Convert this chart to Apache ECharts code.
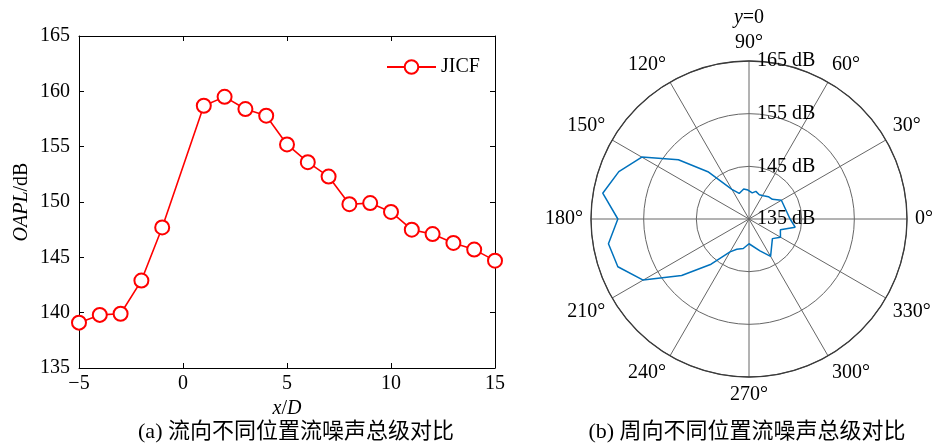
<!DOCTYPE html>
<html>
<head>
<meta charset="utf-8">
<script src="https://cdn.jsdelivr.net/npm/echarts@6/dist/echarts.min.js"></script>
<style>
html, body { margin: 0; padding: 0; background: #fff; }
#chart { width: 932px; height: 446px; }
</style>
</head>
<body>
<div id="chart"></div>
<script>
// Streamwise positions (x/D) and overall sound pressure level (dB)
const streamwisePositions = [-5, -4, -3, -2, -1, 1, 2, 3, 4, 5, 6, 7, 8, 9, 10, 11, 12, 13, 14, 15];
const streamwiseOAPL = [139.1, 139.8, 139.9, 142.9, 147.7, 158.7, 159.5, 158.4, 157.8, 155.2, 153.6, 152.3, 149.8, 149.9, 149.1, 147.5, 147.1, 146.3, 145.7, 144.7];

// Circumferential angles (deg) and OAPL (dB) in the y=0 plane
const circAngles = [0, 30, 40, 49, 58, 67, 76, 83, 92, 100, 111, 120, 131, 140, 150, 160, 170, 180, 190, 200, 210, 220, 230, 240, 248, 259, 270, 289, 300, 320, 330, 341, 350];
const circOAPL = [142.8, 142.1, 140.8, 140.6, 140.2, 140.0, 140.4, 140.0, 140.5, 140.8, 140.2, 141.5, 146.9, 152.5, 158.5, 161.3, 163.2, 159.9, 162.1, 161.5, 158.2, 151.7, 146.2, 142.2, 141.2, 140.7, 139.7, 141.4, 143.2, 140.8, 141.9, 141.3, 143.9];

// Axis tick settings
const xTickRange = { min: -5, max: 15, step: 5 };
const yTickRange = { min: 135, max: 165, step: 5 };
const radiusTickRange = { min: 135, max: 165, step: 10 };
const angleTickStep = 30;

const serif = "'Liberation Serif', 'Times New Roman', serif";
const captionFont = "'Liberation Serif', 'Noto Sans CJK SC', serif";

const lineData = streamwisePositions.map((x, i) => [x, streamwiseOAPL[i]]);
const polarData = circAngles.map((a, i) => [circOAPL[i], a]);
polarData.push([circOAPL[0], circAngles[0] + 360]);

const fmtMinus = v => (v < 0 ? '\u2212' + Math.abs(v) : String(v));

const cartAxisBase = {
  type: 'value',
  axisLine: { show: true, onZero: false, lineStyle: { color: '#000', width: 1 } },
  axisTick: { show: true, inside: true, length: 5, lineStyle: { color: '#000' } },
  splitLine: { show: false }
};

const chart = echarts.init(document.getElementById('chart'), null, { renderer: 'canvas' });

chart.setOption({
  backgroundColor: '#fff',
  animation: false,
  grid: { left: 79, right: 437, top: 36, bottom: 78, containLabel: false },
  legend: {
    data: ['JICF'],
    left: 381, top: 52,
    itemWidth: 49, itemHeight: 17, itemGap: 6,
    textStyle: { fontFamily: serif, fontSize: 20, color: '#000' }
  },
  xAxis: [
    Object.assign({}, cartAxisBase, {
      position: 'bottom',
      min: xTickRange.min, max: xTickRange.max, interval: xTickRange.step,
      axisLabel: { formatter: fmtMinus, fontFamily: serif, fontSize: 20, color: '#000', margin: 6 },
      name: '{i|x}/{i|D}', nameLocation: 'middle', nameGap: 28,
      nameTextStyle: { fontFamily: serif, fontSize: 20, color: '#000',
        rich: { i: { fontFamily: serif, fontSize: 20, fontStyle: 'italic', color: '#000' } } }
    }),
    Object.assign({}, cartAxisBase, {
      position: 'top',
      min: xTickRange.min, max: xTickRange.max, interval: xTickRange.step,
      axisLabel: { show: false }
    })
  ],
  yAxis: [
    Object.assign({}, cartAxisBase, {
      position: 'left',
      min: yTickRange.min, max: yTickRange.max, interval: yTickRange.step,
      axisLabel: { fontFamily: serif, fontSize: 20, color: '#000', margin: 9 },
      name: '{i|OAPL}/dB', nameLocation: 'middle', nameGap: 47, nameRotate: 90,
      nameTextStyle: { fontFamily: serif, fontSize: 20, color: '#000',
        rich: { i: { fontFamily: serif, fontSize: 20, fontStyle: 'italic', color: '#000' } } }
    }),
    Object.assign({}, cartAxisBase, {
      position: 'right',
      min: yTickRange.min, max: yTickRange.max, interval: yTickRange.step,
      axisLabel: { show: false }
    })
  ],
  polar: [
    { center: [749, 219], radius: 158 },
    { center: [749, 219], radius: 158 }
  ],
  angleAxis: [
    {
      polarIndex: 0, type: 'value', min: 0, max: 360, interval: angleTickStep,
      startAngle: 0, clockwise: false,
      axisLine: { show: true, lineStyle: { color: '#3a3a3a', width: 1.3 } },
      axisTick: { show: false },
      axisLabel: { formatter: v => (v >= 360 ? '' : v + '\u00b0'), fontFamily: serif, fontSize: 20, color: '#000', margin: 8 },
      splitLine: { show: true, lineStyle: { color: '#666', width: 1 } }
    },
    {
      polarIndex: 1, type: 'value', min: 0, max: 360, startAngle: 90, clockwise: false,
      show: false
    }
  ],
  radiusAxis: [
    {
      polarIndex: 0, type: 'value',
      min: radiusTickRange.min, max: radiusTickRange.max, interval: radiusTickRange.step,
      axisLine: { show: false }, axisTick: { show: false }, axisLabel: { show: false },
      splitLine: { show: true, lineStyle: { color: '#666', width: 1 } }
    },
    {
      polarIndex: 1, type: 'value',
      min: radiusTickRange.min, max: radiusTickRange.max, interval: radiusTickRange.step,
      axisLine: { show: false }, axisTick: { show: false }, splitLine: { show: false },
      axisLabel: { show: true, formatter: v => v + ' dB', fontFamily: serif, fontSize: 20, color: '#000',
        margin: -8, align: 'left', verticalAlign: 'middle' },
      z: 10
    }
  ],
  graphic: [
    { type: 'text', x: 749, y: 18, style: { text: '{i|y}=0', align: 'center', verticalAlign: 'middle',
        font: '20px ' + serif, fill: '#000',
        rich: { i: { fontFamily: serif, fontSize: 20, fontStyle: 'italic', fill: '#000' } } } },
    { type: 'text', x: 296, y: 432, style: { text: '(a) 流向不同位置流噪声总级对比', align: 'center', verticalAlign: 'middle',
        font: '22px ' + captionFont, fill: '#000' } },
    { type: 'text', x: 747, y: 432, style: { text: '(b) 周向不同位置流噪声总级对比', align: 'center', verticalAlign: 'middle',
        font: '22px ' + captionFont, fill: '#000' } }
  ],
  series: [
    {
      name: 'JICF', type: 'line', xAxisIndex: 0, yAxisIndex: 0,
      data: lineData,
      symbol: 'emptyCircle', symbolSize: 14,
      lineStyle: { color: '#ff0000', width: 1.6 },
      itemStyle: { color: '#ff0000', borderColor: '#ff0000', borderWidth: 1.6 }
    },
    {
      name: 'circumferential', type: 'line', coordinateSystem: 'polar', polarIndex: 0,
      data: polarData, symbol: 'none', smooth: false,
      lineStyle: { color: '#0072BD', width: 1.5 },
      z: 5
    }
  ]
});
</script>
</body>
</html>
